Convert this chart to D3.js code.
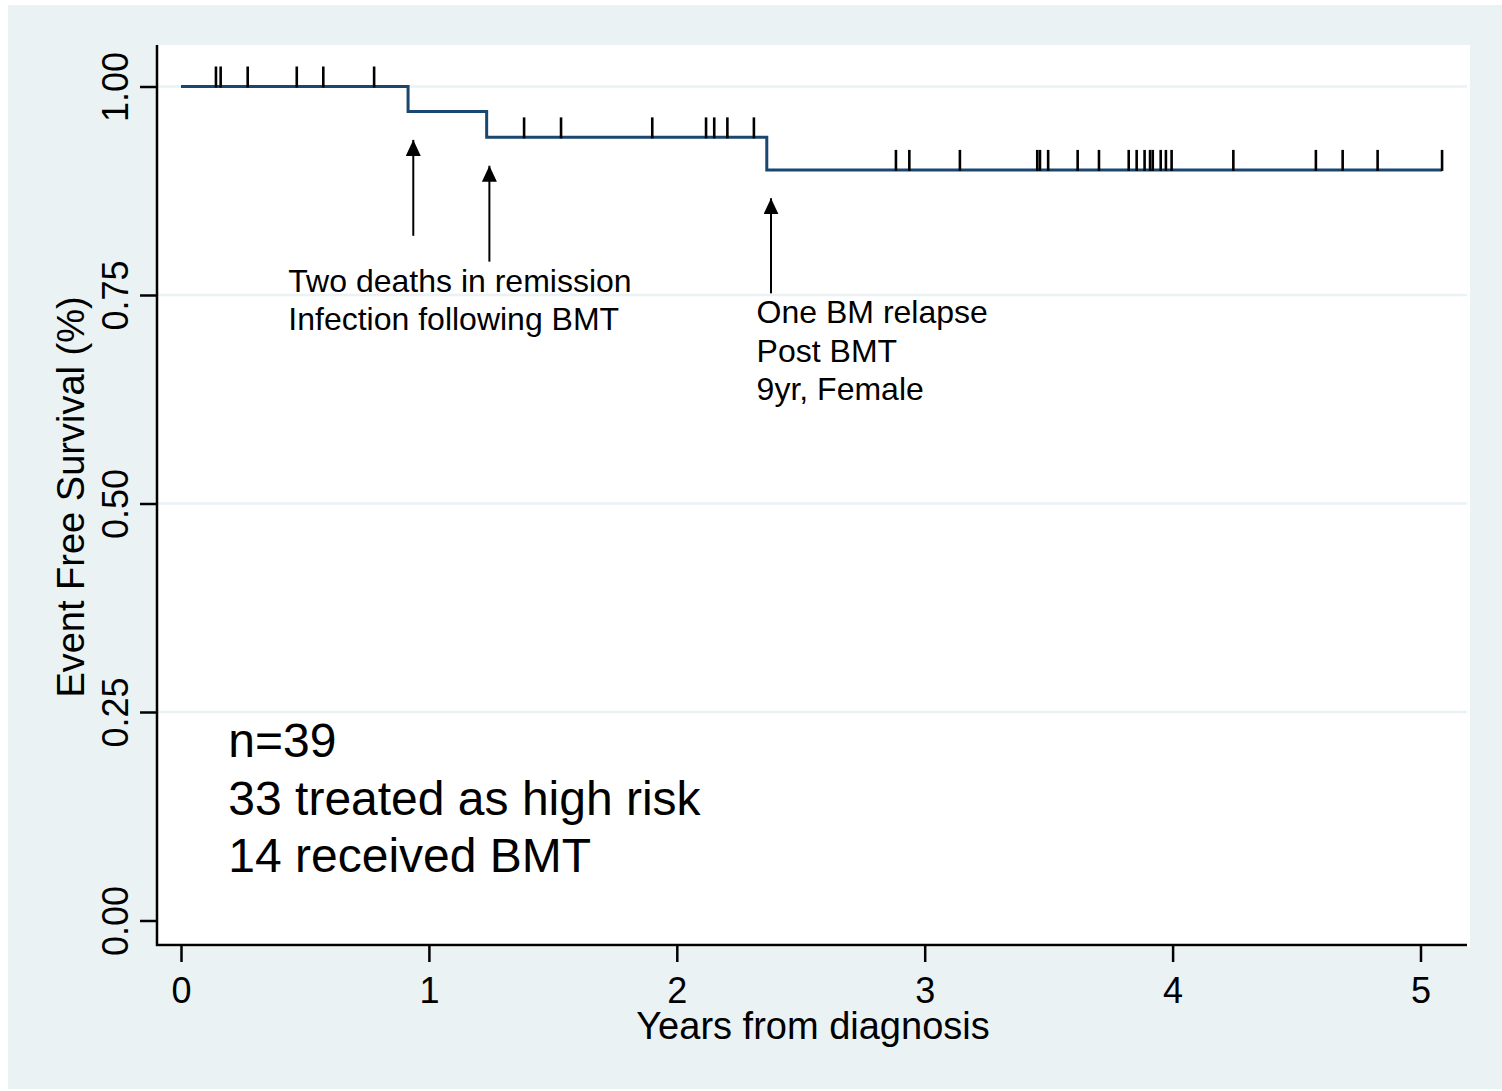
<!DOCTYPE html>
<html>
<head>
<meta charset="utf-8">
<script src="https://cdn.jsdelivr.net/npm/d3@7"></script>
<style>
  body { margin: 0; background: #fff; }
  svg { display: block; font-family: Arial, "Liberation Sans", sans-serif; }
</style>
</head>
<body>
<svg id="km" width="1502" height="1091"></svg>
<script>
// step points of the Kaplan-Meier curve (years, survival)
var stepTimes = [0, 0.916, 1.233, 2.363];
var stepSurv = [1.0, 0.970, 0.939, 0.900];
var followUpEnd = 5.087;

// censored observations (years)
var censorTimes = [0.141, 0.160, 0.269, 0.467, 0.574, 0.779,
    1.384, 1.533, 1.901, 2.118, 2.151, 2.204, 2.311,
    2.884, 2.938, 3.142, 3.454, 3.465, 3.498, 3.617, 3.703, 3.823, 3.855,
    3.887, 3.909, 3.920, 3.952, 3.973, 3.996, 4.245, 4.578, 4.686, 4.827, 5.087];

var xTicks = [0, 1, 2, 3, 4, 5];
var yTicks = [0, 0.25, 0.5, 0.75, 1];

// arrows: x, tail y, tip y (data units)
var arrowX = [0.937, 1.244, 2.380];
var arrowFrom = [0.821, 0.790, 0.752];
var arrowTo = [0.936, 0.905, 0.866];

var noteDeaths = ["Two deaths in remission", "Infection following BMT"];
var noteRelapse = ["One BM relapse", "Post BMT", "9yr, Female"];
var noteCohort = ["n=39", "33 treated as high risk", "14 received BMT"];

var svg = d3.select("#km");

var xScale = d3.scaleLinear().domain([0, 5]).range([181, 1420.5]);
var yScale = d3.scaleLinear().domain([0, 1]).range([920.5, 86.5]);

// graph region and plot region
svg.append("rect").attr("x", 8).attr("y", 5).attr("width", 1494).attr("height", 1084)
    .style("fill", "#eaf2f3");
svg.append("rect").attr("x", 157).attr("y", 45).attr("width", 1313).attr("height", 902)
    .style("fill", "#ffffff");

// gridlines
svg.selectAll(".grid")
    .data(yTicks.filter(function(d) { return d > 0; }))
    .enter().append("line")
    .attr("class", "grid")
    .attr("x1", 157).attr("x2", 1467)
    .attr("y1", function(d) { return yScale(d); })
    .attr("y2", function(d) { return yScale(d); })
    .style("stroke", "#eaf2f3")
    .style("stroke-width", 2.5);

// axes
var yAxis = d3.axisLeft(yScale).tickValues(yTicks).tickSize(17).tickFormat(d3.format(".2f"));
var gy = svg.append("g").attr("class", "y axis").attr("transform", "translate(157,0)").call(yAxis);
gy.select(".domain").remove();
gy.selectAll("line").style("stroke", "#000").style("stroke-width", 2.5);
gy.selectAll("text")
    .attr("x", 0).attr("dy", 0)
    .attr("transform", "translate(-29,0) rotate(-90)")
    .style("text-anchor", "middle")
    .style("font-size", "36px")
    .style("fill", "#000");

var xAxis = d3.axisBottom(xScale).tickValues(xTicks).tickSize(17).tickFormat(d3.format("d"));
var gx = svg.append("g").attr("class", "x axis").attr("transform", "translate(0,945)").call(xAxis);
gx.select(".domain").remove();
gx.selectAll("line").style("stroke", "#000").style("stroke-width", 2.5);
gx.selectAll("text")
    .attr("y", 58).attr("dy", 0)
    .style("font-size", "36px")
    .style("fill", "#000");

svg.append("line").attr("x1", 157).attr("x2", 157).attr("y1", 45).attr("y2", 946)
    .style("stroke", "#000").style("stroke-width", 2.5);
svg.append("line").attr("x1", 156).attr("x2", 1467).attr("y1", 945).attr("y2", 945)
    .style("stroke", "#000").style("stroke-width", 2.5);

// axis titles
svg.append("text")
    .attr("transform", "translate(84,497) rotate(-90)")
    .style("text-anchor", "middle")
    .style("font-size", "38px")
    .text("Event Free Survival (%)");

svg.append("text")
    .attr("x", 813).attr("y", 1039)
    .style("text-anchor", "middle")
    .style("font-size", "38px")
    .text("Years from diagnosis");

// survival step line
var kmPoints = stepTimes.map(function(t, i) { return [t, stepSurv[i]]; });
kmPoints.push([followUpEnd, stepSurv[stepSurv.length - 1]]);

var line = d3.line()
    .x(function(d) { return xScale(d[0]); })
    .y(function(d) { return yScale(d[1]); })
    .curve(d3.curveStepAfter);

svg.append("path")
    .datum(kmPoints)
    .attr("d", line)
    .style("fill", "none")
    .style("stroke", "#1a476f")
    .style("stroke-width", 3);

function survAt(t) {
    var s = stepSurv[0];
    stepTimes.forEach(function(st, i) { if (t >= st) s = stepSurv[i]; });
    return s;
}

// censoring marks
svg.selectAll(".censor")
    .data(censorTimes)
    .enter().append("line")
    .attr("class", "censor")
    .attr("x1", function(d) { return xScale(d); })
    .attr("x2", function(d) { return xScale(d); })
    .attr("y1", function(d) { return yScale(survAt(d)) + 1; })
    .attr("y2", function(d) { return yScale(survAt(d)) - 20; })
    .style("stroke", "#000")
    .style("stroke-width", 2.6);

// arrows
svg.append("defs").append("marker")
    .attr("id", "head")
    .attr("viewBox", "0 0 16 15")
    .attr("refX", 16).attr("refY", 7.5)
    .attr("markerWidth", 16).attr("markerHeight", 15)
    .attr("markerUnits", "userSpaceOnUse")
    .attr("orient", "auto")
    .append("path")
    .attr("d", "M0,0 L16,7.5 L0,15 Z")
    .style("fill", "#000");

svg.selectAll(".arrow")
    .data(arrowX)
    .enter().append("line")
    .attr("class", "arrow")
    .attr("x1", function(d) { return xScale(d); })
    .attr("x2", function(d) { return xScale(d); })
    .attr("y1", function(d, i) { return yScale(arrowFrom[i]); })
    .attr("y2", function(d, i) { return yScale(arrowTo[i]); })
    .attr("marker-end", "url(#head)")
    .style("stroke", "#000")
    .style("stroke-width", 2);

// annotations
function note(lines, x, y, size, gap) {
    svg.append("g").selectAll("text")
        .data(lines)
        .enter().append("text")
        .attr("x", xScale(x))
        .attr("y", function(d, i) { return yScale(y) + i * gap; })
        .style("font-size", size + "px")
        .style("fill", "#000")
        .text(function(d) { return d; });
}

note(noteDeaths, 0.433, 0.754, 32, 38.5);
note(noteRelapse, 2.322, 0.716, 32, 38.5);
note(noteCohort, 0.191, 0.196, 48, 57.5);
</script>
</body>
</html>
